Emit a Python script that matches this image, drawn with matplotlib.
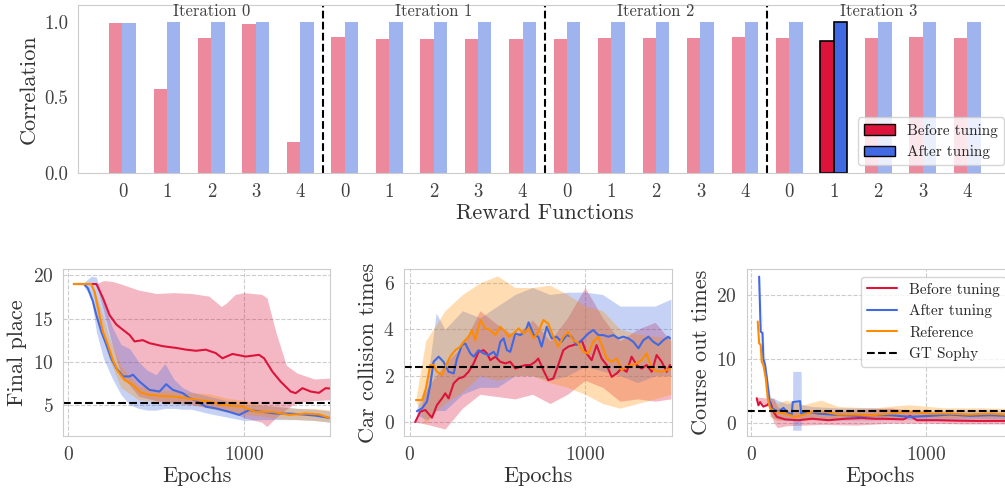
import numpy as np
import matplotlib
matplotlib.use("Agg")
import matplotlib.pyplot as plt
import seaborn as sns
from matplotlib.patches import Patch
from matplotlib.lines import Line2D

sns.set_style("whitegrid", {"grid.linestyle": "--"})
plt.rcParams["font.family"] = ["cmr10", "DejaVu Serif"]
plt.rcParams["mathtext.fontset"] = "cm"
plt.rcParams["axes.formatter.use_mathtext"] = True
plt.rcParams["axes.unicode_minus"] = False

# ---- top: correlation per reward function ----
iterations = ["Iteration 0", "Iteration 1", "Iteration 2", "Iteration 3"]
reward_ids = ["0", "1", "2", "3", "4"]
corr_before = [0.993, 0.553, 0.895, 0.987, 0.204,
               0.901, 0.888, 0.888, 0.888, 0.882,
               0.888, 0.895, 0.895, 0.895, 0.901,
               0.895, 0.875, 0.895, 0.901, 0.895]
corr_after = [0.993, 1.0, 1.0, 1.0, 1.0,
              1.0, 1.0, 1.0, 1.0, 1.0,
              1.0, 1.0, 1.0, 1.0, 1.0,
              1.0, 1.0, 1.0, 1.0, 1.0]
highlight = 16  # iteration 3, reward 1

# ---- bottom: training curves ----
# final place
fp_red_x = [32, 160, 197, 235, 274, 311, 349, 377, 424, 462, 538, 614, 670, 727, 782, 839, 877, 934,
            1010, 1085, 1114, 1161, 1208, 1265, 1294, 1332, 1379, 1426, 1464, 1490]
fp_red_y = [19, 19, 17.4, 15.4, 14.3, 13.7, 13.1, 12.35, 12.5, 12.15, 11.8, 11.6, 11.4, 11.27, 11.4, 11.0, 10.4, 10.9,
            10.6, 10.8, 10.4, 8.86, 7.7, 6.55, 6.36, 6.94, 6.55, 6.4, 6.94, 6.9]
fp_blue_x = [32, 90, 112, 140, 160, 188, 216, 244, 273, 311, 349, 368, 405, 462, 519, 557, 595, 652, 689, 727,
             782, 839, 915, 972, 1028, 1104, 1180, 1256, 1332, 1408, 1484]
fp_blue_y = [19, 19, 18.5, 17, 15.4, 13.5, 12.0, 10.4, 9.26, 8.3, 8.3, 8.5, 7.7, 6.74, 6.55, 7.4, 6.74, 6.36, 5.8, 5.5,
             4.8, 4.6, 4.2, 3.84, 4.4, 4.2, 4.0, 4.0, 3.9, 3.76, 3.5]
fp_orange_x = [32, 130, 150, 178, 197, 225, 254, 282, 320, 368, 415, 462, 519, 595, 670, 727,
               801, 877, 990, 1066, 1161, 1256, 1351, 1426, 1484]
fp_orange_y = [19, 19, 18.1, 15.4, 13.5, 12.0, 10.2, 8.9, 7.9, 7.3, 6.4, 6.16, 6.05, 5.97, 5.8, 5.6,
               5.4, 5.0, 4.8, 4.2, 4.2, 3.85, 4.0, 3.9, 3.5]
fp_red_band_x = [32, 160, 200, 250, 300, 400, 500, 600, 700, 800, 870, 900, 950, 1000, 1100, 1130, 1180, 1240,
                 1300, 1400, 1490]
fp_red_hi = [19, 19.0, 19.4, 19.3, 19.0, 18.3, 17.9, 18.0, 17.9, 17.6, 16.4, 16.8, 17.8, 18.0, 17.8, 17.4, 13.5, 9.6,
             8.7, 8.0, 8.1]
fp_red_lo = [19, 19.0, 16.0, 12.0, 8.5, 6.0, 5.5, 5.2, 5.0, 4.7, 4.5, 4.3, 4.0, 3.5, 3.0, 2.5, 3.5, 4.5,
             5.3, 5.5, 5.6]
fp_blue_band_x = [80, 130, 160, 200, 250, 300, 350, 400, 450, 500, 550, 600, 650, 700, 800, 900, 1000, 1100,
                  1200, 1300, 1400, 1490]
fp_blue_hi = [19, 19.9, 19.8, 17.0, 14.0, 12.0, 11.5, 10.0, 9.0, 8.5, 9.8, 8.0, 7.0, 6.5, 6.0, 5.5, 5.0, 5.0,
              4.8, 4.6, 4.5, 4.3]
fp_blue_lo = [19, 17.5, 13.5, 10.4, 8.1, 6.2, 5.0, 4.6, 4.4, 4.4, 4.6, 4.6, 4.5, 4.5, 4.0, 3.6, 3.2, 3.3,
              3.3, 3.3, 3.2, 3.0]
fp_orange_band_x = [130, 180, 230, 300, 400, 500, 600, 700, 800, 900, 1000, 1100, 1200, 1300, 1400, 1490]
fp_orange_hi = [19.2, 16.5, 13.0, 9.5, 7.2, 6.8, 6.6, 6.4, 6.3, 5.8, 5.5, 5.0, 4.8, 4.6, 4.6, 4.4]
fp_orange_lo = [18.8, 14.0, 10.5, 7.0, 5.6, 5.4, 5.2, 5.1, 4.6, 4.2, 3.9, 3.7, 3.4, 3.3, 3.2, 3.0]
fp_sophy = 5.2

# car collision times
cc_red_x = [30, 59, 88, 126, 154, 183, 202, 221, 250, 278, 307, 335, 364, 392, 421, 440, 459, 488, 516, 545,
            573, 602, 630, 659, 688, 716, 733, 762, 790, 819, 847, 876, 904, 933, 962, 981, 1009, 1038, 1066,
            1095, 1124, 1152, 1181, 1209, 1238, 1266, 1295, 1323, 1352, 1381, 1409, 1438, 1466, 1485]
cc_red_y = [0.0, 0.45, 0.52, 0.19, 0.73, 1.02, 1.24, 1.02, 1.67, 1.88, 1.95, 2.17, 2.53, 3.03, 3.10, 2.96, 2.67,
            2.82, 2.60, 2.53, 2.60, 2.31, 2.39, 2.46, 2.46, 2.60, 2.74, 2.24, 1.81, 1.88, 2.46, 3.10, 3.25, 3.32,
            3.39, 3.53, 2.96, 2.67, 3.32, 2.74, 2.46, 1.95, 2.10, 2.31, 2.17, 2.82, 2.46, 2.31, 2.46, 2.17, 2.89,
            2.60, 2.17, 2.46]
cc_blue_x = [40, 69, 97, 116, 135, 164, 192, 221, 250, 269, 297, 316, 345, 364, 392, 421, 450, 478, 497, 516,
             535, 554, 573, 602, 630, 659, 678, 707, 733, 752, 781, 809, 838, 866, 895, 924, 952, 981, 1019,
             1047, 1076, 1104, 1133, 1162, 1190, 1219, 1247, 1276, 1305, 1333, 1362, 1390, 1419, 1447, 1476, 1485]
cc_blue_y = [0.47, 0.59, 0.88, 1.59, 2.60, 2.82, 2.60, 2.17, 2.10, 2.74, 3.32, 3.39, 2.96, 2.82, 3.10, 2.96, 2.89,
             3.03, 2.82, 3.46, 3.61, 3.10, 3.03, 3.82, 3.75, 3.89, 4.30, 3.75, 3.68, 3.25, 4.11, 3.61, 3.68, 3.46,
             3.75, 3.68, 3.32, 3.53, 3.82, 3.97, 3.75, 3.75, 3.68, 3.75, 3.61, 3.68, 3.61, 3.46, 3.18, 3.53, 3.68,
             3.46, 3.32, 3.53, 3.68, 3.61]
cc_orange_x = [34, 72, 91, 116, 135, 154, 183, 202, 230, 259, 288, 307, 335, 354, 373, 402, 430, 459, 488, 516,
               545, 564, 592, 621, 650, 678, 707, 733, 762, 790, 819, 847, 876, 904, 933, 962, 990, 1019, 1047,
               1076, 1095, 1124, 1152, 1181, 1209, 1238, 1266, 1295, 1323, 1352, 1381, 1409, 1438, 1466, 1485]
cc_orange_y = [0.95, 0.95, 1.45, 2.46, 2.46, 2.17, 2.03, 2.39, 2.82, 3.10, 3.25, 3.46, 3.68, 3.97, 3.53, 4.40,
               4.04, 3.97, 3.75, 4.11, 3.89, 3.68, 3.82, 4.04, 3.82, 4.04, 3.61, 3.89, 4.40, 4.25, 3.68, 3.25, 3.68,
               3.89, 3.53, 3.39, 3.03, 2.96, 3.46, 3.68, 3.32, 2.74, 2.60, 2.74, 2.24, 2.39, 2.46, 2.53, 2.67, 2.96,
               2.31, 2.20, 2.17, 2.24, 2.31]
cc_red_band_x = [30, 100, 200, 300, 400, 500, 600, 700, 800, 900, 1000, 1100, 1200, 1300, 1400, 1490]
cc_red_lo = [0, -0.1, -0.3, 0.6, 1.2, 1.1, 1.0, 1.2, 0.8, 1.2, 1.8, 1.5, 0.9, 1.0, 0.9, 1.0]
cc_red_hi = [0, 1.5, 2.5, 3.3, 4.8, 4.2, 3.7, 4.4, 3.5, 4.5, 5.8, 4.5, 3.5, 4.0, 4.3, 3.5]
cc_blue_band_x = [40, 100, 150, 200, 300, 400, 500, 600, 700, 800, 900, 1000, 1100, 1200, 1300, 1400, 1490]
cc_blue_lo = [0.3, 0.1, 0.5, 0.5, 1.2, 1.5, 1.5, 2.0, 2.0, 1.8, 2.0, 2.4, 2.2, 2.0, 1.7, 2.0, 2.0]
cc_blue_hi = [0.6, 1.8, 4.7, 4.0, 4.8, 4.5, 5.0, 5.5, 5.8, 5.5, 5.6, 5.6, 5.5, 5.0, 5.0, 5.0, 5.3]
cc_orange_band_x = [34, 90, 150, 200, 300, 400, 500, 600, 700, 800, 900, 1000, 1100, 1200, 1300, 1400, 1490]
cc_orange_lo = [0.9, -0.1, 0.5, 0.8, 1.3, 2.0, 1.8, 2.0, 2.0, 1.7, 1.5, 1.2, 0.8, 0.6, 0.8, 1.0, 1.2]
cc_orange_hi = [1.0, 3.5, 4.2, 4.8, 5.5, 6.0, 6.3, 5.8, 5.8, 5.9, 5.5, 5.0, 4.8, 4.0, 3.8, 3.7, 3.6]
cc_sophy = 2.36

# course out times
co_red_x = [32, 42, 51, 70, 90, 109, 128, 147, 194, 270, 347, 442, 537, 632, 709, 756, 870, 909, 947, 1061,
            1175, 1290, 1451, 1490]
co_red_y = [3.8, 2.7, 3.2, 2.5, 2.7, 3.2, 1.7, 0.9, 0.5, 0.37, 0.6, 0.37, 0.6, 0.73, 0.6, 0.6, 0.5, 1.05, 0.37,
            0.37, 0.3, 0.26, 0.26, 0.26]
co_blue_x = [46, 55, 65, 70, 80, 90, 99, 109, 128, 156, 185, 204, 232, 238, 280, 286, 328, 385, 461, 537, 613,
             699, 794, 909, 1023, 1137, 1251, 1366, 1451, 1490]
co_blue_y = [22.8, 14.2, 14.0, 10.0, 9.0, 6.9, 4.8, 2.5, 2.1, 1.7, 2.3, 1.7, 1.15, 3.2, 3.35, 1.4, 1.7, 1.4, 1.25,
             1.15, 1.05, 1.15, 1.15, 0.9, 1.05, 1.25, 1.05, 1.15, 1.05, 1.05]
co_orange_x = [38, 46, 55, 61, 70, 84, 95, 109, 137, 194, 251, 290, 347, 423, 499, 594, 690, 794, 909, 1023,
               1137, 1251, 1366, 1451, 1490]
co_orange_y = [15.8, 12.4, 12.1, 9.5, 9.0, 6.9, 3.8, 2.2, 1.7, 1.4, 0.9, 1.15, 1.7, 1.7, 1.25, 1.25, 1.15, 1.4,
               1.7, 1.4, 1.4, 1.25, 1.4, 1.25, 1.25]
co_red_band_x = [32, 100, 130, 150, 200, 400, 600, 800, 1000, 1200, 1490]
co_red_lo = [3.5, 2.5, 0.0, -0.8, -0.5, -0.3, -0.4, -0.1, -0.1, -0.2, -0.2]
co_red_hi = [4.0, 3.8, 3.8, 2.5, 1.8, 1.7, 2.0, 2.3, 1.5, 1.2, 1.0]
co_blue_band_x = [46, 80, 110, 150, 200, 237, 238, 286, 287, 350, 500, 700, 900, 1100, 1300, 1490]
co_blue_lo = [22.8, 8.5, 1.0, 0.5, 0.3, 0.3, -1.2, -1.2, 0.5, 0.6, 0.4, 0.4, 0.5, 0.5, 0.6, 0.5]
co_blue_hi = [22.8, 9.5, 4.0, 3.5, 3.0, 3.0, 8.0, 8.0, 2.8, 2.5, 2.3, 2.3, 2.0, 1.9, 2.0, 1.8]
co_orange_band_x = [38, 80, 110, 150, 200, 300, 400, 500, 700, 900, 1100, 1300, 1490]
co_orange_lo = [15.8, 6.8, 0.8, 0.3, 0.5, 0.3, 0.6, 0.6, 0.6, 0.8, 0.7, 0.7, 0.6]
co_orange_hi = [15.8, 7.5, 3.8, 3.0, 3.5, 2.8, 3.5, 2.5, 2.3, 2.8, 2.3, 2.3, 2.2]
co_sophy = 1.83

c_before, c_after, c_ref = "crimson", "royalblue", "darkorange"

fig = plt.figure(figsize=(10.05, 4.97), dpi=100)

# ---------------- top bar chart ----------------
ax = fig.add_axes([0.0776, 0.652, 0.929, 0.338])
ax.grid(False)
n = len(corr_before)
xs = np.arange(n)
w = 0.3
for i in range(n):
    if i == highlight:
        ax.bar(xs[i] - w / 2, corr_before[i], w, color=c_before, edgecolor="black", linewidth=1.2)
        ax.bar(xs[i] + w / 2, corr_after[i], w, color=c_after, edgecolor="black", linewidth=1.2)
    else:
        ax.bar(xs[i] - w / 2, corr_before[i], w, color=c_before, alpha=0.5, linewidth=0)
        ax.bar(xs[i] + w / 2, corr_after[i], w, color=c_after, alpha=0.5, linewidth=0)
for k in range(1, len(iterations)):
    ax.axvline(5 * k - 0.5, color="black", linestyle="--", linewidth=1.5)
for k, name in enumerate(iterations):
    ax.text(5 * k + 2, 1.067, name, ha="center", va="center", fontsize=12, color="0.25")
ax.set_xticks(xs)
ax.set_xticklabels(reward_ids * len(iterations))
ax.set_xlim(-1.0, 20.0)
ax.set_ylim(0, 1.11)
ax.set_yticks([0.0, 0.5, 1.0])
ax.set_yticklabels(["0.0", "0.5", "1.0"])
ax.tick_params(labelsize=13.5, colors="0.25")
ax.set_xlabel("Reward Functions", fontsize=16, color="0.2", labelpad=2)
ax.set_ylabel("Correlation", fontsize=16, color="0.2")
handles = [Patch(facecolor=c_before, edgecolor="black", label="Before tuning"),
           Patch(facecolor=c_after, edgecolor="black", label="After tuning")]
ax.legend(handles=handles, loc="lower right", fontsize=11, frameon=True, framealpha=0.8)

# ---------------- bottom curves ----------------
specs = [
    ([0.063, 0.1227, 0.2654, 0.3361], "Final place", (-28, 1489), (1.4, 20.74), [5, 10, 15, 20],
     (fp_red_x, fp_red_y, fp_red_band_x, fp_red_lo, fp_red_hi),
     (fp_blue_x, fp_blue_y, fp_blue_band_x, fp_blue_lo, fp_blue_hi),
     (fp_orange_x, fp_orange_y, fp_orange_band_x, fp_orange_lo, fp_orange_hi), fp_sophy),
    ([0.4023, 0.1227, 0.2664, 0.3361], "Car collision times", (-32, 1497), (-0.6, 6.6), [0, 2, 4, 6],
     (cc_red_x, cc_red_y, cc_red_band_x, cc_red_lo, cc_red_hi),
     (cc_blue_x, cc_blue_y, cc_blue_band_x, cc_blue_lo, cc_blue_hi),
     (cc_orange_x, cc_orange_y, cc_orange_band_x, cc_orange_lo, cc_orange_hi), cc_sophy),
    ([0.743, 0.1227, 0.266, 0.3361], "Course out times", (-25, 1503), (-2.1, 24.0), [0, 10, 20],
     (co_red_x, co_red_y, co_red_band_x, co_red_lo, co_red_hi),
     (co_blue_x, co_blue_y, co_blue_band_x, co_blue_lo, co_blue_hi),
     (co_orange_x, co_orange_y, co_orange_band_x, co_orange_lo, co_orange_hi), co_sophy),
]

for idx, (pos, ylab, xl, yl, yt, red, blue, orange, sophy) in enumerate(specs):
    a = fig.add_axes(pos)
    for series, col in ((red, c_before), (blue, c_after), (orange, c_ref)):
        sx, sy, bx, lo, hi = series
        a.fill_between(bx, lo, hi, color=col, alpha=0.3, linewidth=0)
    for series, col in ((red, c_before), (blue, c_after), (orange, c_ref)):
        sx, sy, bx, lo, hi = series
        a.plot(sx, sy, color=col, linewidth=1.5)
    a.axhline(sophy, color="black", linestyle="--", linewidth=1.5)
    a.set_xlim(*xl)
    a.set_ylim(*yl)
    a.set_xticks([0, 1000])
    a.set_yticks(yt)
    a.tick_params(labelsize=14, colors="0.25")
    a.set_xlabel("Epochs", fontsize=16, color="0.2", labelpad=2)
    a.set_ylabel(ylab, fontsize=16, color="0.2", labelpad=4)
    if idx == 2:
        lh = [Line2D([], [], color=c_before, lw=1.5, label="Before tuning"),
              Line2D([], [], color=c_after, lw=1.5, label="After tuning"),
              Line2D([], [], color=c_ref, lw=1.5, label="Reference"),
              Line2D([], [], color="black", lw=1.5, ls="--", label="GT Sophy")]
        a.legend(handles=lh, loc="upper right", fontsize=11, framealpha=0.8)

fig.savefig("out.png", dpi=100)
